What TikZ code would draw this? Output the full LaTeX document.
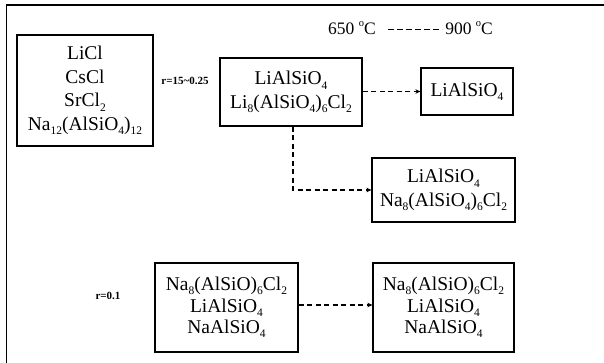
\documentclass[tikz,border=0pt]{standalone}
\usepackage{fontspec}
\setmainfont{Liberation Serif}
\usetikzlibrary{arrows.meta}
\newcommand\dn[1]{\raisebox{-0.22em}{\fontsize{11.5}{11.5}\selectfont #1}}
\newcommand\upo{\raisebox{0.42em}{\fontsize{10.5}{10.5}\selectfont o}}
\begin{document}
\begin{tikzpicture}[x=1pt,y=-1pt,
  box/.style={draw, line width=1.2pt, align=center, inner sep=0pt,
    font=\fontsize{19.5}{23.5}\selectfont},
  flow/.style={line width=1.2pt, dash pattern=on 5pt off 3.5pt, -{Stealth[length=5pt,width=4.5pt]}},
  rlabel/.style={font=\fontsize{11}{13}\selectfont\bfseries, inner sep=0pt},
  temp/.style={font=\fontsize{17.5}{20}\selectfont, inner sep=0pt}]
\useasboundingbox (0,0) rectangle (604,363);
\draw[line width=1.5pt] (6.5,363) -- (6.5,5) -- (604,5);

\node[box, minimum width=136pt, minimum height=111pt] (A) at (85,90.5)
  {LiCl\\CsCl\\SrCl\dn{2}\\Na\dn{12}(AlSiO\dn{4})\dn{12}};
\node[box, minimum width=142pt, minimum height=68pt] (B) at (291,92)
  {LiAlSiO\dn{4}\\Li\dn{8}(AlSiO\dn{4})\dn{6}Cl\dn{2}};
\node[box, minimum width=92pt, minimum height=47pt] (C) at (467,91.5)
  {LiAlSiO\dn{4}};
\node[box, minimum width=143pt, minimum height=64pt] (D) at (443.5,190)
  {LiAlSiO\dn{4}\\Na\dn{8}(AlSiO\dn{4})\dn{6}Cl\dn{2}};
\node[box, minimum width=143pt, minimum height=89pt,
  font=\fontsize{19.5}{21.5}\selectfont] (E) at (226.5,307.5)
  {Na\dn{8}(AlSiO)\dn{6}Cl\dn{2}\\LiAlSiO\dn{4}\\NaAlSiO\dn{4}};
\node[box, minimum width=141pt, minimum height=89pt,
  font=\fontsize{19.5}{21.5}\selectfont] (F) at (443.5,307.5)
  {Na\dn{8}(AlSiO)\dn{6}Cl\dn{2}\\LiAlSiO\dn{4}\\NaAlSiO\dn{4}};

\node[rlabel] (r1) at (185,81) {r=15\textasciitilde 0.25};
\node[rlabel] (r2) at (108,296) {r=0.1};

\node[temp, anchor=west] (t1) at (328,28) {650 \upo C};
\node[temp, anchor=east] (t2) at (493,28) {900 \upo C};
\coordinate (d1) at (388,29);
\coordinate (d2) at (442,29);
\draw[line width=0.9pt, dash pattern=on 5.5pt off 3.5pt] (d1) -- (d2);

\draw[flow] (B.east |- C.west) -- (C.west);
\coordinate (bend) at ([xshift=2pt]B.south |- D.west);
\draw[flow] ([xshift=2pt]B.south) -- (bend) -- (D.west);
\draw[flow] (E.east |- 0,305) -- (F.west |- 0,305);
\end{tikzpicture}
\end{document}
